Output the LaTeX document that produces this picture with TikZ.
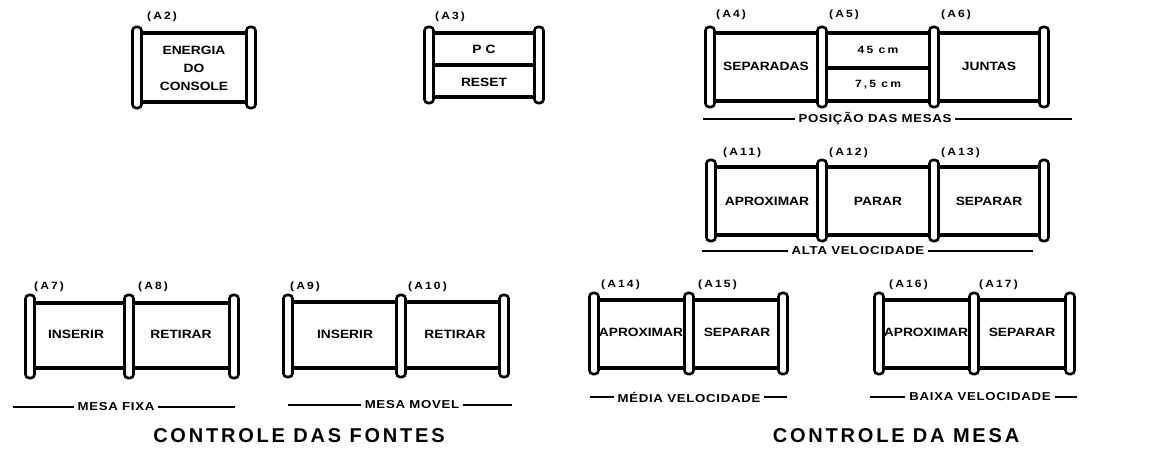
\documentclass[tikz,border=0pt]{standalone}
\usepackage{fontspec}
\setmainfont{Liberation Sans}
\newfontfamily\cellfont{Liberation Sans}[FakeStretch=1.15]
\newfontfamily\tagfont{Liberation Sans}[FakeStretch=1.15,LetterSpace=20]
\newfontfamily\rulefont{Liberation Sans}[FakeStretch=1.15,LetterSpace=6]
\newfontfamily\titlefont{Liberation Sans}[LetterSpace=14]

\begin{document}
\begin{tikzpicture}[
  x=1pt, y=-1pt,
  cell/.style={font=\cellfont\bfseries\fontsize{12}{18}\selectfont, align=center, inner sep=0pt},
  small cell/.style={cell, font=\tagfont\bfseries\fontsize{10.5}{12}\selectfont},
  tag/.style={font=\tagfont\bfseries\fontsize{10.5}{12}\selectfont, anchor=west, inner sep=0pt},
  rail/.style={line width=3.2pt},
  bar/.style={draw, line width=2.6pt, rounded corners=3.5pt, fill=white},
  rule/.style={line width=2.8pt},
  rulelabel/.style={font=\rulefont\bfseries\fontsize{11.5}{12}\selectfont, fill=white, inner xsep=4pt, inner ysep=1pt},
  title/.style={font=\titlefont\bfseries\fontsize{20}{22}\selectfont, inner sep=0pt}
]
\useasboundingbox (0,0) rectangle (1172,450);

% A2
\draw[rail] (137,33) -- (251,33) (137,102) -- (251,102);
\foreach \x in {137,251} \draw[bar] (\x-4.5,27) rectangle (\x+4.5,108);
\node[cell] (energia) at (194,68) {ENERGIA\\DO\\CONSOLE};
\node[tag] (a2) at (147,17) {(A2)};

% A3
\draw[rail] (429,33) -- (539,33) (429,65) -- (539,65) (429,97) -- (539,97);
\foreach \x in {429,539} \draw[bar] (\x-4.5,27) rectangle (\x+4.5,103);
\node[cell] (pc) at (484,49) {P\,\,C};
\node[cell] (reset) at (484,82) {RESET};
\node[tag] (a3) at (435,17) {(A3)};

% A4 - A6
\draw[rail] (710,33) -- (1044,33) (710,101) -- (1044,101) (822,68) -- (934,68);
\foreach \x in {710,822,934,1044} \draw[bar] (\x-4.5,27) rectangle (\x+4.5,107);
\node[cell] (separadas) at (766,66) {SEPARADAS};
\node[small cell] (dist45) at (878,50) {45 cm};
\node[small cell] (dist75) at (878,85) {7,5 cm};
\node[cell] (juntas) at (989,66) {JUNTAS};
\node[tag] (a4) at (716,15) {(A4)};
\node[tag] (a5) at (829,15) {(A5)};
\node[tag] (a6) at (941,15) {(A6)};
\draw[rule] (703,119) -- (1072,119);
\node[rulelabel] (posicao) at (875,119) {POSIÇÃO DAS MESAS};

% A11 - A13
\draw[rail] (711,167) -- (1044,167) (711,235) -- (1044,235);
\foreach \x in {711,822,934,1044} \draw[bar] (\x-4.5,160) rectangle (\x+4.5,241);
\node[cell] (aprox1) at (767,201) {APROXIMAR};
\node[cell] (parar) at (878,201) {PARAR};
\node[cell] (separ1) at (989,201) {SEPARAR};
\node[tag] (a11) at (723,153) {(A11)};
\node[tag] (a12) at (829,153) {(A12)};
\node[tag] (a13) at (941,153) {(A13)};
\draw[rule] (702,251) -- (1033,251);
\node[rulelabel] (alta) at (858,251) {ALTA VELOCIDADE};

% A7 - A8
\draw[rail] (30,303) -- (234,303) (30,368) -- (234,368);
\foreach \x in {30,129,234} \draw[bar] (\x-4.5,295) rectangle (\x+4.5,378);
\node[cell] (inserir1) at (76,334) {INSERIR};
\node[cell] (retirar1) at (181,334) {RETIRAR};
\node[tag] (a7) at (34,287) {(A7)};
\node[tag] (a8) at (138,287) {(A8)};
\draw[rule] (13,407) -- (235,407);
\node[rulelabel] (fixa) at (116,407) {MESA FIXA};

% A9 - A10
\draw[rail] (288,302) -- (504,302) (288,368) -- (504,368);
\foreach \x in {288,401,504} \draw[bar] (\x-4.5,295) rectangle (\x+4.5,377);
\node[cell] (inserir2) at (345,334) {INSERIR};
\node[cell] (retirar2) at (455,334) {RETIRAR};
\node[tag] (a9) at (290,287) {(A9)};
\node[tag] (a10) at (408,287) {(A10)};
\draw[rule] (288,405) -- (512,405);
\node[rulelabel] (movel) at (412,405) {MESA MOVEL};

% A14 - A15
\draw[rail] (594,300) -- (783,300) (594,368) -- (783,368);
\foreach \x in {594,689,783} \draw[bar] (\x-4.5,293) rectangle (\x+4.5,374);
\node[cell] (aprox2) at (641,332) {APROXIMAR};
\node[cell] (separ2) at (737,332) {SEPARAR};
\node[tag] (a14) at (601,285) {(A14)};
\node[tag] (a15) at (698,285) {(A15)};
\draw[rule] (590,397) -- (787,397);
\node[rulelabel] (media) at (689,397) {MÉDIA VELOCIDADE};

% A16 - A17
\draw[rail] (879,300) -- (1070,300) (879,368) -- (1070,368);
\foreach \x in {879,974,1070} \draw[bar] (\x-4.5,293) rectangle (\x+4.5,374);
\node[cell] (aprox3) at (926,332) {APROXIMAR};
\node[cell] (separ3) at (1022,332) {SEPARAR};
\node[tag] (a16) at (889,285) {(A16)};
\node[tag] (a17) at (979,285) {(A17)};
\draw[rule] (870,397) -- (1077,397);
\node[rulelabel] (baixa) at (980,397) {BAIXA VELOCIDADE};

% group titles
\node[title] (fontes) at (299,436) {CONTROLE DAS FONTES};
\node[title] (mesa) at (896,436) {CONTROLE DA MESA};
\end{tikzpicture}
\end{document}
